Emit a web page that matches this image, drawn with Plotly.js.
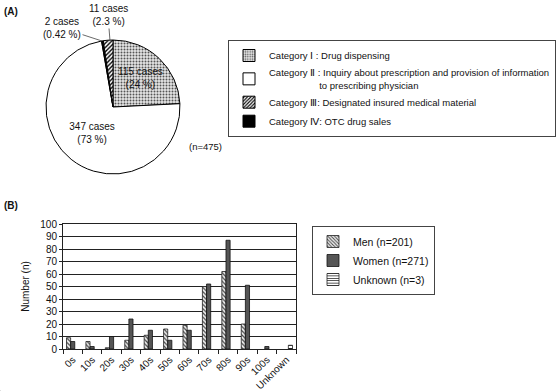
<!DOCTYPE html>
<html>
<head>
<meta charset="utf-8">
<script src="https://cdn.plot.ly/plotly-3.0.1.min.js"></script>
<style>html,body{margin:0;padding:0;background:#fff}#chart{width:560px;height:391px}</style>
</head>
<body>
<div id="chart"></div>
<script>
// ---- Panel A data (drawing order clockwise from 12 o'clock) ----
const pieCategories = ['Category Ⅰ', 'Category Ⅱ', 'Category Ⅳ', 'Category Ⅲ'];
const pieValues = [115, 347, 2, 11];
const piePercents = ['24 %', '73 %', '0.42 %', '2.3 %'];
const pieLegendNames = [
  'Category Ⅰ : Drug dispensing',
  'Category Ⅱ : Inquiry about prescription and provision of information<br>' + '\u00a0'.repeat(19) + 'to prescribing physician',
  'Category Ⅲ: Designated insured medical material',
  'Category Ⅳ: OTC drug sales'
];
const totalN = 475;

// ---- Panel B data ----
const ageGroups = ['0s', '10s', '20s', '30s', '40s', '50s', '60s', '70s', '80s', '90s', '100s', 'Unknown'];
const menCounts = [9, 6, 1, 7, 11, 16, 19, 50, 62, 20, null, null];
const womenCounts = [6, 2, 10, 24, 15, 7, 15, 52, 87, 51, 2, null];
const unknownCounts = [null, null, null, null, null, null, null, null, null, null, null, 3];
const seriesNames = ['Men (n=201)', 'Women (n=271)', 'Unknown (n=3)'];

const W = 560, H = 391;
const px = x => x / W, py = y => 1 - y / H;
const FONT = 'Arial, "Liberation Sans", sans-serif';

const patI = {shape: '.', fgcolor: '#555', bgcolor: '#e6e6e6', size: 3, solidity: 0.35};
const patIII = {shape: '/', fgcolor: '#000', bgcolor: '#fff', size: 3, solidity: 0.45};
const pieColors = ['#e6e6e6', '#ffffff', '#000000', '#ffffff'];
const piePatterns = [patI, {shape: ''}, {shape: ''}, patIII];

const pieText = pieValues.map((v, i) => v + ' cases<br>(' + piePercents[i] + ')');

const traces = [];
traces.push({
  type: 'pie',
  labels: pieCategories,
  values: pieValues,
  text: pieText,
  textinfo: 'text',
  textposition: ['inside', 'inside', 'none', 'none'],
  insidetextorientation: 'horizontal',
  textfont: {family: FONT, size: 10, color: '#111'},
  sort: false,
  direction: 'clockwise',
  rotation: 0,
  marker: {colors: pieColors, pattern: {
    shape: piePatterns.map(p => p.shape || ''),
    fgcolor: piePatterns.map(p => p.fgcolor || '#000'),
    bgcolor: piePatterns.map(p => p.bgcolor || '#fff'),
    size: piePatterns.map(p => p.size || 4),
    solidity: piePatterns.map(p => p.solidity || 0.3)
  }, line: {color: '#000', width: 1}},
  domain: {x: [px(46), px(180)], y: [py(174), py(40)]},
  showlegend: false,
  hoverinfo: 'none'
});

// Legend entries for panel A (legend2), on a hidden axis
const legendA = [
  {color: '#e6e6e6', pattern: patI},
  {color: '#ffffff', pattern: {shape: ''}},
  {color: '#ffffff', pattern: patIII},
  {color: '#000000', pattern: {shape: ''}}
];
legendA.forEach((m, i) => {
  traces.push({
    type: 'bar', x: [ageGroups[0]], y: [0], xaxis: 'x2', yaxis: 'y2',
    name: pieLegendNames[i], legend: 'legend2',
    marker: {color: m.color, pattern: m.pattern, line: {color: '#000', width: 1}},
    hoverinfo: 'none'
  });
});

// Panel B bars
traces.push({
  type: 'bar', x: ageGroups, y: menCounts, name: seriesNames[0],
  marker: {color: '#eeeeee', pattern: {shape: '\\', fgcolor: '#444', bgcolor: '#eeeeee', size: 3, solidity: 0.4},
           line: {color: '#222', width: 0.8}}
});
traces.push({
  type: 'bar', x: ageGroups, y: womenCounts, name: seriesNames[1],
  marker: {color: '#555555', line: {color: '#111', width: 0.8}}
});
traces.push({
  type: 'bar', x: ageGroups, y: unknownCounts, name: seriesNames[2],
  marker: {color: '#ffffff', pattern: {shape: '-', fgcolor: '#222', bgcolor: '#fff', size: 3, solidity: 0.35},
           line: {color: '#222', width: 0.8}}
});

const layout = {
  width: W, height: H,
  margin: {l: 0, r: 0, t: 0, b: 0},
  paper_bgcolor: '#fff', plot_bgcolor: '#fff',
  font: {family: FONT, size: 10, color: '#111'},
  barmode: 'group', bargap: 0.36, bargroupgap: 0,
  xaxis: {
    domain: [px(63), px(296)], anchor: 'y',
    type: 'category', tickangle: -45, ticks: 'outside', ticklen: 4, tickson: 'boundaries',
    tickcolor: '#222', showline: true, linecolor: '#222', linewidth: 1, mirror: true,
    showgrid: false, tickfont: {size: 10}, fixedrange: true
  },
  yaxis: {
    domain: [py(349), py(224)], anchor: 'x',
    range: [0, 100], dtick: 10, ticks: 'outside', ticklen: 3, tickcolor: '#222',
    showline: true, linecolor: '#222', linewidth: 1, mirror: true,
    showgrid: true, gridcolor: '#222', gridwidth: 1, zeroline: false,
    tickfont: {size: 10},
    title: {text: 'Number (n)', font: {size: 10}, standoff: 8}, fixedrange: true
  },
  xaxis2: {domain: [0, 0.001], anchor: 'y2', visible: false},
  yaxis2: {domain: [0, 0.001], anchor: 'x2', visible: false},
  legend: {
    x: px(312), y: py(226), xanchor: 'left', yanchor: 'top',
    bordercolor: '#444', borderwidth: 1, bgcolor: '#fff',
    font: {size: 10.5}, tracegroupgap: 0, itemwidth: 30
  },
  legend2: {
    x: px(228), y: py(40), xanchor: 'left', yanchor: 'top',
    bordercolor: '#444', borderwidth: 1, bgcolor: '#fff',
    font: {size: 9.5}, tracegroupgap: 0, itemwidth: 30
  },
  annotations: [
    {text: '<b>(A)</b>', xref: 'paper', yref: 'paper', x: px(2), y: py(11), xanchor: 'left', yanchor: 'middle', showarrow: false, font: {size: 10}},
    {text: '<b>(B)</b>', xref: 'paper', yref: 'paper', x: px(2), y: py(205), xanchor: 'left', yanchor: 'middle', showarrow: false, font: {size: 10}},
    {text: '(n=' + totalN + ')', xref: 'paper', yref: 'paper', x: px(187), y: py(147), xanchor: 'left', yanchor: 'middle', showarrow: false, font: {size: 9.5}},
    {text: pieText[3], xref: 'paper', yref: 'paper', x: px(110), y: py(41), ax: -2, ay: -26,
     showarrow: true, arrowhead: 0, arrowwidth: 0.8, arrowcolor: '#444', font: {size: 10}},
    {text: pieText[2], xref: 'paper', yref: 'paper', x: px(102), y: py(41), ax: -40, ay: -13,
     showarrow: true, arrowhead: 0, arrowwidth: 0.8, arrowcolor: '#444', font: {size: 10}}
  ]
};

Plotly.newPlot('chart', traces, layout, {displayModeBar: false, staticPlot: true});
</script>
</body>
</html>
